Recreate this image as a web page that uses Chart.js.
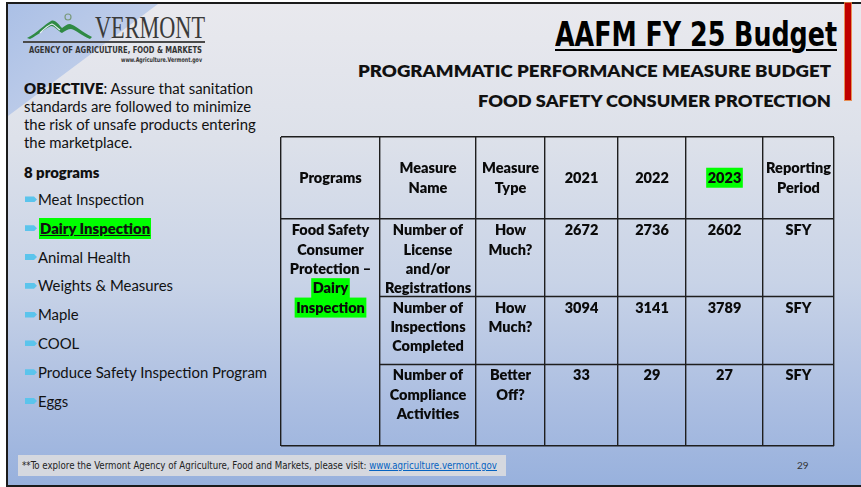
<!DOCTYPE html>
<html>
<head>
<meta charset="utf-8">
<script src="https://cdn.jsdelivr.net/npm/chart.js@4.4.1/dist/chart.umd.min.js"></script>
<style>
  body { margin: 0; width: 861px; height: 487px; overflow: hidden; background: #fff; position: relative;
         font-family: Lato, "Noto Sans", sans-serif; color: #111; }
  #slide { position: absolute; left: 6px; top: 2px; width: 857px; height: 481px;
           border: 2px solid #1b1b1b; border-right: none;
           background: linear-gradient(to bottom, #e9e9ee 0%, #dde1ea 28%, #c8d3e7 58%, #aabde1 84%, #98b1dd 100%); }
  #corner { position: absolute; left: 8px; top: 4px; width: 150px; height: 112px;
            clip-path: polygon(0 0, 100% 0, 0 100%);
            background: linear-gradient(135deg, #abc0e6 0%, #c3d0ea 70%, #d6dcea 100%); }
  .abs { position: absolute; white-space: nowrap; }
  .fit { transform-origin: left center; }
  #title { left: 555px; top: 17px; font: bold 34px "Liberation Sans Narrow", "DejaVu Sans Condensed", sans-serif;
           line-height: 34px; text-decoration: underline; text-decoration-thickness: 2px; text-underline-offset: 3px; color: #000; }
  .sub { font: 800 16.5px Lato, sans-serif; line-height: 16.5px; color: #111; }
  #redbar { left: 845px; top: 3px; width: 6px; height: 97px; background: #c00000;
            box-shadow: 0 0 0 1px rgba(232, 128, 60, 0.85); }
  #objective { left: 24px; top: 79px; font-size: 14.9px; line-height: 18px; color: #111; }
  #objective b { font-weight: 800; }
  #count { left: 24px; top: 163px; font-weight: 800; font-size: 14.9px; line-height: 18px; }
  #programList { left: 25px; top: 185px; font-size: 14.9px; }
  .item { height: 28.8px; line-height: 28.8px; display: flex; align-items: center; }
  .bullet { width: 12px; height: 6px; background: #5bc4ec; margin-right: 1px;
            clip-path: polygon(0 0, 75% 0, 100% 50%, 75% 100%, 0 100%); }
  .sel { font-weight: 800; text-decoration: underline; background: #00ff00; line-height: 21px; padding: 0 1px; margin-left: 1px; }
  #footer { left: 18px; top: 455px; width: 488px; height: 21px; background: #d5d8df; }
  #footText { left: 22px; top: 460px; font: 10px "Liberation Sans Narrow", "DejaVu Sans Condensed", sans-serif; color: #222; line-height: 11px; }
  #footText a { color: #0563c1; text-decoration: underline; }
  #page { left: 797px; top: 459px; font: 10px Lato, sans-serif; color: #333; }
  #tableChart { position: absolute; left: 277px; top: 133px; }
</style>
</head>
<body>
<div id="slide"></div>
<div id="corner"></div>

<svg class="abs" style="left:0;top:0" width="220" height="70">
  <path d="M27,38 C37,33 45,24 51,21 C55,19 58,24 62,28 C65,26 67,24 70,24 C75,25 82,32 92,37
           L90,39 C82,36 76,30 71,29 C68,29 65,31 62,33 C58,31 55,26 51,26 C46,28 38,35 30,39 Z"
        fill="#2f8a44"/>
  <path d="M40,33 C45,28 49,25 52,24 C55,25 57,28 60,30" fill="none" stroke="#e8eef6" stroke-width="1.2"/>
  <circle cx="68" cy="17" r="3" fill="none" stroke="#7a9a7c" stroke-width="1.2"/>
  <text x="95" y="38" font-family="Liberation Serif, DejaVu Serif, serif" font-size="32" fill="#3a3a3a"
        textLength="110" lengthAdjust="spacingAndGlyphs">VERMONT</text>
  <line x1="23" y1="42" x2="205" y2="42" stroke="#4a4a4a" stroke-width="2"/>
  <text x="29" y="53" font-family="Liberation Sans Narrow, DejaVu Sans Condensed, sans-serif" font-weight="bold"
        font-size="9.5" fill="#333" textLength="173" lengthAdjust="spacingAndGlyphs">AGENCY OF AGRICULTURE, FOOD &amp; MARKETS</text>
  <text x="121" y="61.5" font-family="Liberation Sans Narrow, DejaVu Sans Condensed, sans-serif" font-weight="bold"
        font-size="6.5" fill="#333" textLength="81" lengthAdjust="spacingAndGlyphs">www.Agriculture.Vermont.gov</text>
</svg>

<div id="title" class="abs fit">AAFM FY 25 Budget</div>
<div id="sub1" class="abs fit sub" style="left:358px;top:63px">PROGRAMMATIC PERFORMANCE MEASURE BUDGET</div>
<div id="sub2" class="abs fit sub" style="left:478px;top:93px">FOOD SAFETY CONSUMER PROTECTION</div>
<div id="redbar" class="abs"></div>

<div id="objective" class="abs"><b>OBJECTIVE</b>: Assure that sanitation<br>standards are followed to minimize<br>the risk of unsafe products entering<br>the marketplace.</div>
<div id="count" class="abs"></div>
<div id="programList" class="abs"></div>

<canvas id="tableChart" width="561" height="317"></canvas>

<div id="footer" class="abs"></div>
<div id="footText" class="abs fit">**To explore the Vermont Agency of Agriculture, Food and Markets, please visit: <a>www.agriculture.vermont.gov</a></div>
<div id="page" class="abs">29</div>

<script>
// Programs of the food safety division
const programs = ['Meat Inspection', 'Dairy Inspection', 'Animal Health', 'Weights & Measures',
                  'Maple', 'COOL', 'Produce Safety Inspection Program', 'Eggs'];
const selectedProgram = 'Dairy Inspection';

// Table content
const headers = ['Programs', 'Measure Name', 'Measure Type', '2021', '2022', '2023', 'Reporting Period'];
const programCell = ['Food Safety', 'Consumer', 'Protection –', 'Dairy', 'Inspection'];
const measureNames = ['Number of License and/or Registrations', 'Number of Inspections Completed',
                      'Number of Compliance Activities'];
const measureTypes = ['How Much?', 'How Much?', 'Better Off?'];
const fy2021 = [2672, 3094, 33];
const fy2022 = [2736, 3141, 29];
const fy2023 = [2602, 3789, 27];
const reportingPeriods = ['SFY', 'SFY', 'SFY'];
const highlighted = ['Dairy', 'Inspection', '2023'];

// table geometry (axis units, 1 unit = 1px of the table)
const colEdges = [0, 99, 195, 264, 337, 405, 482, 553];
const rowEdges = [0, 82, 160, 228, 311];
const lineColor = '#1e1e1e';
const cellFont = '800 14.5px Lato, sans-serif';
const lineH = 19.4;

document.getElementById('count').textContent = programs.length + ' programs';
const list = document.getElementById('programList');
programs.forEach(p => {
  const row = document.createElement('div');
  row.className = 'item';
  const b = document.createElement('span');
  b.className = 'bullet';
  const t = document.createElement('span');
  t.textContent = p;
  if (p === selectedProgram) t.className = 'sel';
  row.appendChild(b);
  row.appendChild(t);
  list.appendChild(row);
});

function wrap(ctx, text, maxW) {
  const words = String(text).split(' ');
  const lines = [];
  let cur = '';
  words.forEach(w => {
    const test = cur ? cur + ' ' + w : w;
    if (cur && ctx.measureText(test).width > maxW) {
      lines.push(cur);
      cur = w;
    } else {
      cur = test;
    }
  });
  if (cur) lines.push(cur);
  return lines;
}

function drawLines(ctx, lines, cx, firstY) {
  lines.forEach((ln, i) => {
    const cy = firstY + i * lineH;
    if (highlighted.includes(ln)) {
      const w = ctx.measureText(ln).width;
      ctx.fillStyle = '#00ff00';
      ctx.fillRect(cx - w / 2 - 1.5, cy - 10, w + 3, 20);
    }
    ctx.fillStyle = '#0a0a0a';
    ctx.fillText(ln, cx, cy + 0.5);
  });
}

const tablePlugin = {
  id: 'tableCells',
  afterDraw(chart) {
    const { ctx, scales: { x, y } } = chart;
    ctx.save();

    // inner row lines, the program cell spans all body rows
    ctx.strokeStyle = lineColor;
    ctx.lineWidth = 1.4;
    [rowEdges[2], rowEdges[3]].forEach(v => {
      const py = Math.round(y.getPixelForValue(v)) + 0.5;
      ctx.beginPath();
      ctx.moveTo(x.getPixelForValue(colEdges[1]), py);
      ctx.lineTo(x.getPixelForValue(colEdges[7]), py);
      ctx.stroke();
    });

    ctx.font = cellFont;
    ctx.textAlign = 'center';
    ctx.textBaseline = 'middle';
    const cellX = c => (x.getPixelForValue(colEdges[c]) + x.getPixelForValue(colEdges[c + 1])) / 2;
    const cellW = c => x.getPixelForValue(colEdges[c + 1]) - x.getPixelForValue(colEdges[c]) - 6;

    // header row
    const hMid = (y.getPixelForValue(rowEdges[0]) + y.getPixelForValue(rowEdges[1])) / 2;
    headers.forEach((h, c) => {
      const lines = wrap(ctx, h, cellW(c));
      drawLines(ctx, lines, cellX(c), hMid - (lines.length - 1) * lineH / 2);
    });

    // merged program cell
    drawLines(ctx, programCell, cellX(0), y.getPixelForValue(rowEdges[1]) + 11.5);

    // measure rows
    measureNames.forEach((m, r) => {
      const top = y.getPixelForValue(rowEdges[r + 1]) + 11.5;
      const cells = [m, measureTypes[r], fy2021[r], fy2022[r], fy2023[r], reportingPeriods[r]];
      cells.forEach((v, i) => {
        const c = i + 1;
        drawLines(ctx, wrap(ctx, v, cellW(c)), cellX(c), top);
      });
    });
    ctx.restore();
  }
};

function edgeTicks(edges) {
  return scale => { scale.ticks = edges.map(v => ({ value: v })); };
}

function fitWidth(id, w) {
  const el = document.getElementById(id);
  el.style.transform = 'none';
  const r = el.getBoundingClientRect().width;
  el.style.transform = 'scaleX(' + (w / r) + ')';
}

function build() {
  fitWidth('title', 282);
  fitWidth('sub1', 473);
  fitWidth('sub2', 353);
  fitWidth('footText', 475);

  new Chart(document.getElementById('tableChart'), {
    type: 'scatter',
    data: { datasets: [{ data: [] }] },
    options: {
      responsive: false,
      animation: false,
      events: [],
      layout: { padding: 4 },
      plugins: { legend: { display: false }, tooltip: { enabled: false } },
      scales: {
        x: {
          type: 'linear', min: colEdges[0], max: colEdges[colEdges.length - 1],
          ticks: { display: false },
          grid: { color: lineColor, lineWidth: 1.4, drawTicks: false },
          border: { display: false },
          afterBuildTicks: edgeTicks(colEdges)
        },
        y: {
          type: 'linear', min: rowEdges[0], max: rowEdges[rowEdges.length - 1], reverse: true,
          ticks: { display: false },
          grid: {
            color: ctx => (ctx.tick && (ctx.tick.value === rowEdges[2] || ctx.tick.value === rowEdges[3])) ? 'rgba(0,0,0,0)' : lineColor,
            lineWidth: 1.4, drawTicks: false
          },
          border: { display: false },
          afterBuildTicks: edgeTicks(rowEdges)
        }
      }
    },
    plugins: [tablePlugin]
  });
}

if (document.fonts && document.fonts.ready) {
  document.fonts.ready.then(build);
} else {
  build();
}
</script>
</body>
</html>
